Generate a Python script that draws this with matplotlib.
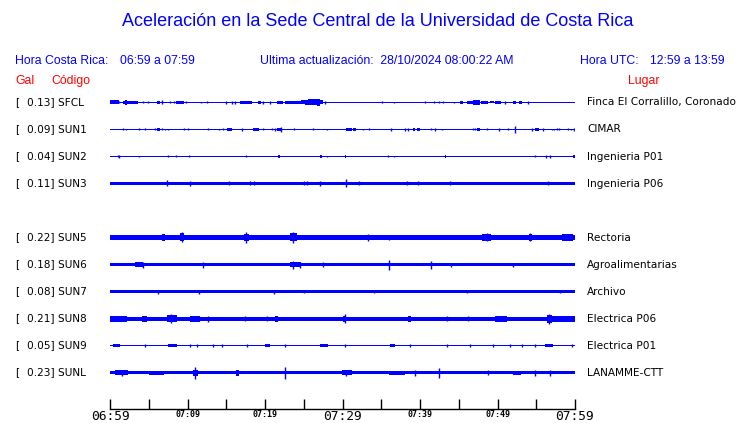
import matplotlib
matplotlib.use("Agg")
import matplotlib.pyplot as plt
import numpy as np

W, H = 740, 423

# station data
stations = ["SFCL", "SUN1", "SUN2", "SUN3", "SUN5", "SUN6", "SUN7", "SUN8", "SUN9", "SUNL"]
gal = [0.13, 0.09, 0.04, 0.11, 0.22, 0.18, 0.08, 0.21, 0.05, 0.23]
places = ["Finca El Corralillo, Coronado", "CIMAR", "Ingenieria P01", "Ingenieria P06",
          "Rectoria", "Agroalimentarias", "Archivo", "Electrica P06", "Electrica P01",
          "LANAMME-CTT"]

# background trace half-height (px) per station
base_amp = [0.5, 0.5, 0.5, 1.5, 2.4, 1.5, 1.5, 2.0, 0.5, 1.5]

# bursts: (start_min, end_min, half_height) or spikes (min, half_height)
sfcl = [(0, 1.1, 2.0), (1.2, 1.0), (1.7, 3.6, 1.5), (1.9, 2.2, 2.5), (4.3, 1.0), (4.9, 1.0),
        (6.0, 6.5, 1.5), (6.7, 2.0), (7.7, 1.0), (8.2, 1.0), (8.5, 9.5, 1.5), (9.8, 1.0),
        (11.7, 0.8), (12.5, 1.0), (15.0, 1.2), (15.8, 1.2), (16.1, 1.2), (16.8, 18.3, 1.5),
        (19.1, 19.5, 1.7), (19.8, 1.2), (20.6, 1.5), (21.5, 22.3, 1.5), (22.6, 24.7, 1.5),
        (24.7, 25.2, 2.0), (25.2, 25.6, 2.5), (25.6, 26.7, 3.0), (26.7, 27.1, 3.8),
        (27.1, 27.5, 2.0), (27.7, 1.2), (35.1, 1.0), (36.6, 0.8), (40.7, 1.0), (41.8, 1.0),
        (42.4, 1.0), (43.0, 1.0), (44.4, 0.8), (45.2, 45.5, 1.5), (46.0, 46.9, 1.5),
        (46.9, 47.7, 2.5), (47.9, 48.8, 1.5), (49.0, 49.5, 1.0), (49.7, 50.4, 1.5),
        (51.0, 1.2), (52.0, 52.4, 1.5), (52.8, 53.1, 1.5), (53.9, 1.2)]
sun1 = [(1.7, 1.0), (2.0, 0.8), (3.8, 1.0), (4.5, 1.0), (5.8, 1.0), (6.1, 6.5, 1.2),
        (6.75, 1.0), (7.1, 0.8), (7.5, 0.6), (9.6, 1.0), (10.0, 1.0), (12.6, 1.0), (14.0, 0.6),
        (14.6, 1.0), (15.1, 15.8, 1.5), (17.0, 1.2), (18.5, 19.2, 1.5), (19.7, 1.0),
        (20.9, 1.0), (21.3, 1.2), (21.6, 22.1, 1.5), (22.0, 2.5), (23.8, 1.0), (26.2, 1.0),
        (28.0, 0.8), (30.5, 31.2, 1.2), (31.3, 31.8, 1.5), (32.6, 0.8), (33.4, 1.0),
        (36.2, 1.5), (38.0, 1.2), (38.4, 1.2), (39.1, 39.3, 1.2), (39.6, 40.0, 1.5),
        (41.4, 1.0), (41.9, 1.2), (42.8, 0.8), (46.9, 1.0), (47.1, 1.0), (47.4, 47.8, 1.5),
        (48.6, 1.0), (50.2, 1.2), (51.3, 1.0), (52.2, 3.5), (54.5, 1.2), (54.8, 55.4, 1.3),
        (55.9, 1.5), (57.0, 0.8), (57.3, 0.8), (57.7, 1.0), (57.9, 1.0), (59.1, 1.0),
        (59.5, 0.8), (59.9, 1.2)]
sun2 = [(1.0, 1.0), (1.2, 1.2), (3.8, 0.8), (7.5, 1.0), (8.5, 1.0), (10.2, 1.0), (17.5, 1.0),
        (21.7, 21.9, 1.2), (27.1, 27.3, 1.3), (28.0, 0.8), (30.3, 30.5, 1.3), (35.9, 1.0),
        (36.6, 0.8), (43.2, 43.4, 1.3), (54.8, 1.0), (56.3, 1.2), (56.8, 1.2),
        (59.8, 60.0, 1.3)]
sun3 = [(2.6, 1.0), (7.4, 3.0), (10.3, 2.5), (15.3, 2.0), (18.1, 2.0), (18.6, 2.0),
        (25.0, 2.0), (25.4, 2.0), (27.1, 2.5), (30.4, 4.0), (32.1, 2.0), (38.3, 2.0),
        (39.8, 2.0), (43.9, 2.0), (56.5, 2.0)]
sun5 = [(0, 1.2, 3.0), (4.5, 5.0, 3.0), (6.7, 7.1, 3.5), (9.0, 9.6, 4.0), (9.3, 5.0),
        (12.7, 14.2, 3.0), (17.3, 17.9, 3.5), (17.6, 5.5), (23.2, 24.1, 4.0), (23.6, 5.5),
        (24.1, 26.5, 3.0), (28.6, 29.5, 1.2), (33.0, 33.6, 3.0), (33.3, 3.5), (36.0, 3.0),
        (48.0, 49.2, 3.5), (48.6, 4.0), (50.5, 53.5, 3.0), (54.0, 54.5, 3.5), (54.2, 4.0),
        (58.3, 59.8, 3.5)]
sun6 = [(3.2, 4.3, 2.5), (4.2, 3.0), (12.0, 3.0), (23.2, 24.7, 2.0), (23.6, 4.0),
        (24.5, 3.0), (27.5, 2.5), (36.0, 5.0), (41.4, 4.0), (44.0, 2.0), (52.0, 2.0)]
sun7 = [(6.2, 2.0), (11.5, 2.0), (21.1, 2.0), (25.0, 1.8), (34.0, 1.8), (46.0, 1.8),
        (58.0, 1.8)]
sun8 = [(0, 2.2, 3.0), (4.1, 4.8, 3.0), (7.3, 8.6, 3.5), (7.9, 4.2), (10.3, 11.6, 3.0),
        (12.6, 3.0), (17.4, 2.5), (20.2, 2.5), (21.3, 21.7, 3.0), (30.1, 30.5, 3.0),
        (30.3, 4.5), (38.5, 38.9, 3.0), (43.5, 2.5), (46.2, 2.5), (49.7, 51.2, 3.0),
        (56.4, 57.0, 4.0), (56.7, 5.0), (57.0, 60.0, 3.0)]
sun9 = [(0.4, 1.3, 1.2), (4.5, 1.2), (7.5, 8.6, 1.5), (10.3, 1.2), (11.2, 1.2), (13.3, 1.2),
        (14.4, 1.2), (17.7, 1.2), (20.0, 20.6, 1.2), (22.6, 1.2), (27.1, 28.1, 1.2),
        (30.3, 1.8), (36.1, 36.8, 1.2), (38.7, 1.2), (43.5, 1.2), (46.5, 1.2), (49.4, 1.2),
        (51.6, 1.2), (53.2, 1.2), (54.8, 1.2), (56.1, 57.2, 1.5), (59.6, 1.3)]
sunl = [(0.6, 2.3, 2.5), (1.5, 3.0), (5.0, 7.0, 2.0), (10.7, 11.4, 3.0), (11.0, 6.0),
        (16.3, 16.7, 3.0), (22.6, 6.0), (29.9, 31.2, 2.5), (30.5, 3.0), (36.0, 38.0, 2.0),
        (39.4, 3.0), (42.5, 5.0), (48.8, 2.5), (52.0, 53.0, 2.0), (54.8, 3.0), (56.8, 3.0)]
bursts = [sfcl, sun1, sun2, sun3, sun5, sun6, sun7, sun8, sun9, sunl]

# minutes from 06:59, labelled every 10 min
tick_minutes = [0, 10, 20, 30, 40, 50, 60]
tick_labels = ["06:59", "07:09", "07:19", "07:29", "07:39", "07:49", "07:59"]

blue = "#0000ff"
red = "#ff0000"
row_px = 27.0

fig = plt.figure(figsize=(W / 100, H / 100), dpi=100)
ax = fig.add_axes([110 / W, 14 / H, 465 / W, (409 - 88) / H])

# row slot 4 is left empty (gap after SUN3)
slots = [i if i < 4 else i + 1 for i in range(len(stations))]
y_top = -(102.5 - 88) / row_px
y_bot = (409 - 102.5) / row_px

for k, (slot, amp, ev) in enumerate(zip(slots, base_amp, bursts)):
    y = slot
    a = amp / row_px
    ax.fill_between([0, 60], y - a, y + a, color=blue, lw=0)
    for e in ev:
        if len(e) == 3:
            t0, t1, h = e
            ax.fill_between([t0, t1], y - h / row_px, y + h / row_px, color=blue, lw=0)
        else:
            t, h = e
            ax.vlines(t, y - h / row_px, y + h / row_px, color=blue, lw=1.0)

    # left and right labels
    ypos = 1 - (102.5 + slot * row_px) / H
    fig.text(15 / W, ypos, "[", fontsize=7.6, family="DejaVu Sans", va="center", ha="left")
    fig.text(27 / W, ypos, f"{gal[k]:.2f}] {stations[k]}",
             fontsize=7.6, family="DejaVu Sans", va="center", ha="left")
    fig.text(587 / W, ypos, places[k], fontsize=7.6,
             family="DejaVu Sans", va="center", ha="left")

ax.set_xlim(0, 60)
ax.set_ylim(y_bot, y_top)
for s in ["top", "left", "right"]:
    ax.spines[s].set_visible(False)
ax.spines["bottom"].set_linewidth(1.0)
ax.set_yticks([])
ax.set_xticks(np.arange(0, 61, 5))
ax.set_xticklabels([""] * 13)
ax.tick_params(axis="x", direction="in", length=7, width=1.0, pad=1)

for t, lab in zip(tick_minutes, tick_labels):
    big = t in (0, 30, 60)
    ax.text(t, y_bot + 0.05, lab, ha="center", va="top",
            fontsize=9.3 if big else 6.0, family="DejaVu Sans Mono",
            fontweight="normal" if big else "bold", clip_on=False)

# header texts
sans = "Liberation Sans"
fig.text(378 / W, 1 - 22 / H, "Aceleración en la Sede Central de la Universidad de Costa Rica",
         ha="center", va="center", fontsize=13.0, family=sans, color=blue)
fig.text(15 / W, 1 - 61 / H, "Hora Costa Rica:", fontsize=8.8, family=sans, color=blue, va="center")
fig.text(120 / W, 1 - 61 / H, "06:59 a 07:59", fontsize=8.8, family=sans, color=blue, va="center")
fig.text(260 / W, 1 - 61 / H, "Ultima actualización:  28/10/2024 08:00:22 AM", fontsize=8.8,
         family=sans, color=blue, va="center")
fig.text(580 / W, 1 - 61 / H, "Hora UTC:", fontsize=8.8, family=sans, color=blue, va="center")
fig.text(650 / W, 1 - 61 / H, "12:59 a 13:59", fontsize=8.8, family=sans, color=blue, va="center")
fig.text(15 / W, 1 - 81 / H, "Gal", fontsize=8.8, family=sans, color=red, va="center")
fig.text(51 / W, 1 - 81 / H, "Código", fontsize=8.8, family=sans, color=red, va="center")
fig.text(628 / W, 1 - 81 / H, "Lugar", fontsize=8.8, family=sans, color=red, va="center")

fig.savefig("out.png", dpi=100)
